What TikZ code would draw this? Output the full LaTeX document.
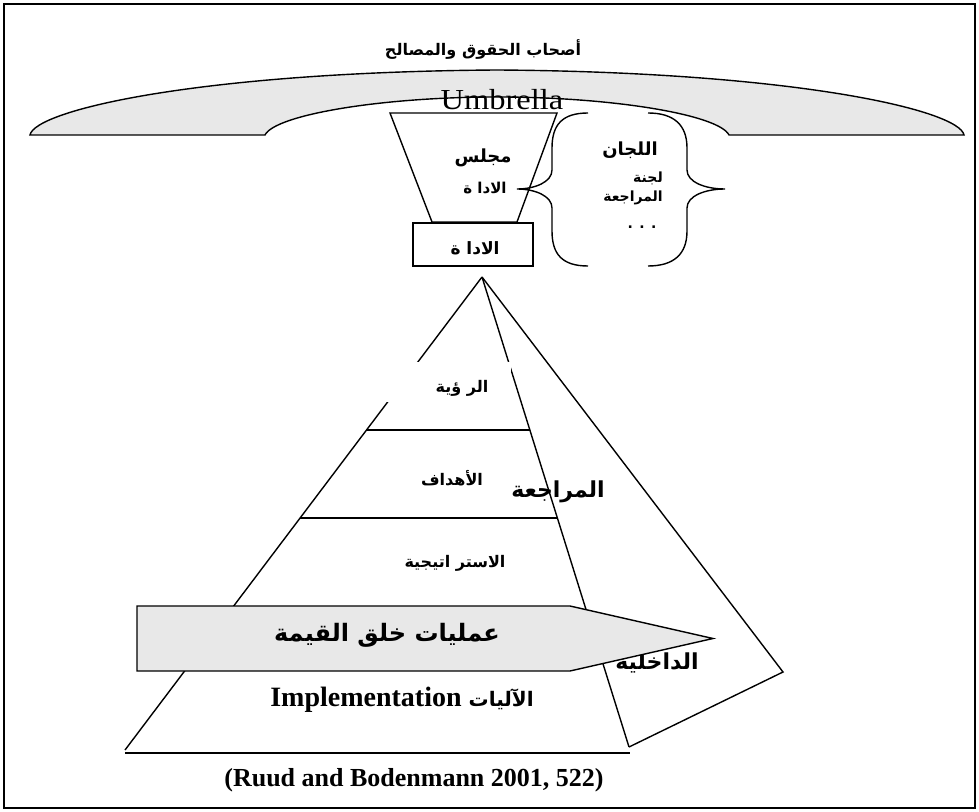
\documentclass[tikz,border=0pt]{standalone}
\usepackage{fontspec}
\setmainfont{Liberation Serif}
\newfontfamily\arabicfont[Script=Arabic]{DejaVu Sans}
\TeXXeTstate=1
\usetikzlibrary{calc}
\definecolor{shade}{RGB}{232,232,232}
\tikzset{
	ar/.style={font=\arabicfont\bfseries\fontsize{#1}{#1}\selectfont,inner sep=0pt},
	lat/.style={font=\fontsize{#1}{#1}\selectfont,inner sep=0pt}
}
\newcommand{\rtl}[1]{\beginR #1\endR}

\begin{document}
\begin{tikzpicture}[x=0.5pt,y=-0.5pt,line width=0.7pt]
		\useasboundingbox (0,0) rectangle (979,812);
		\draw[line width=0.9pt] (4,4) rectangle (975,808);
		%
		\draw[fill=shade] (30,135) .. controls (35,110) and (200,72) .. (497,70)
		.. controls (794,72) and (959,110) .. (964,135) -- (729,135)
		.. controls (719,115) and (614,97) .. (497,97)
		.. controls (380,97) and (275,115) .. (265,135) -- cycle;
		\node[ar=8] (stake) at (483,50) {\rtl{أصحاب الحقوق والمصالح}};
		\node[lat=14.5] (umb) at (502,100) {\scalebox{1.12}[1]{Umbrella}};
		%
		\draw[fill=white] (390,113) -- (557,113) -- (517,222) -- (432,222) -- cycle;
		\node[ar=9] (board) at (483,158) {\rtl{مجلس}};
		\node[ar=7.5] (board2) at (485,188) {\rtl{الادا ة}};
		\node[draw,minimum width=60pt,minimum height=21.5pt,inner sep=0pt] (mgmt) at (473,244.5) {};
		\node[ar=8.5] (mgmtt) at (475,248) {\rtl{الادا ة}};
		%
		\draw (588,113) .. controls (562,113) and (552,125) .. (552,148) -- (552,170)
		.. controls (552,182) and (535,189) .. (517,189)
		.. controls (535,189) and (552,196) .. (552,208) -- (552,231)
		.. controls (552,254) and (562,266) .. (588,266);
		\draw (648,113) .. controls (674,113) and (687,125) .. (687,148) -- (687,170)
		.. controls (687,182) and (705,189) .. (725,189)
		.. controls (705,189) and (687,196) .. (687,208) -- (687,231)
		.. controls (687,254) and (674,266) .. (648,266);
		\node[ar=9] (comm) at (630,150) {\rtl{اللجان}};
		\node[ar=7] (comm2) at (648,178) {\rtl{لجنة}};
		\node[ar=7] (comm3) at (633,198) {\rtl{المراجعة}};
		\node[ar=7] (comm4) at (642,227) {. . .};
		%
		\coordinate (A) at (482,277);
		\coordinate (L) at (125,750);
		\coordinate (I) at (629,747);
		\coordinate (R) at (783,672);
		\draw (A) -- (L);
		\draw (A) -- (I);
		\draw (A) -- (R) -- (I);
		\draw (366.7,430) -- (529.9,430);
		\draw (300,518) -- (557,518);
		\draw (125,753) -- (630,753);
		\fill[white] (375,362) rectangle (510.5,402);
		%
		\node[ar=8] (vis) at (462,388) {\rtl{الر ؤية}};
		\node[ar=8] (goal) at (452,478) {\rtl{الأهداف}};
		\node[ar=11] (audit) at (558,492) {\rtl{المراجعة}};
		\node[ar=8] (strat) at (455,563) {\rtl{الاستر اتيجية}};
		\node[ar=11] (intern) at (657,663) {\rtl{الداخلية}};
		%
		\draw[fill=shade] (137,606) -- (570,606) -- (713,638.5) -- (570,671) -- (137,671) -- cycle;
		\node[ar=12] (value) at (387,635) {\rtl{عمليات خلق القيمة}};
		\node[inner sep=0pt] (impl) at (402,700) {\fontsize{14}{14}\selectfont\bfseries Implementation {\arabicfont\bfseries\fontsize{10}{10}\selectfont\rtl{الآليات}}};
		\node[lat=13,font=\fontsize{13}{13}\selectfont\bfseries] (cite) at (414,780) {(Ruud and Bodenmann 2001, 522)};
\end{tikzpicture}
\end{document}
